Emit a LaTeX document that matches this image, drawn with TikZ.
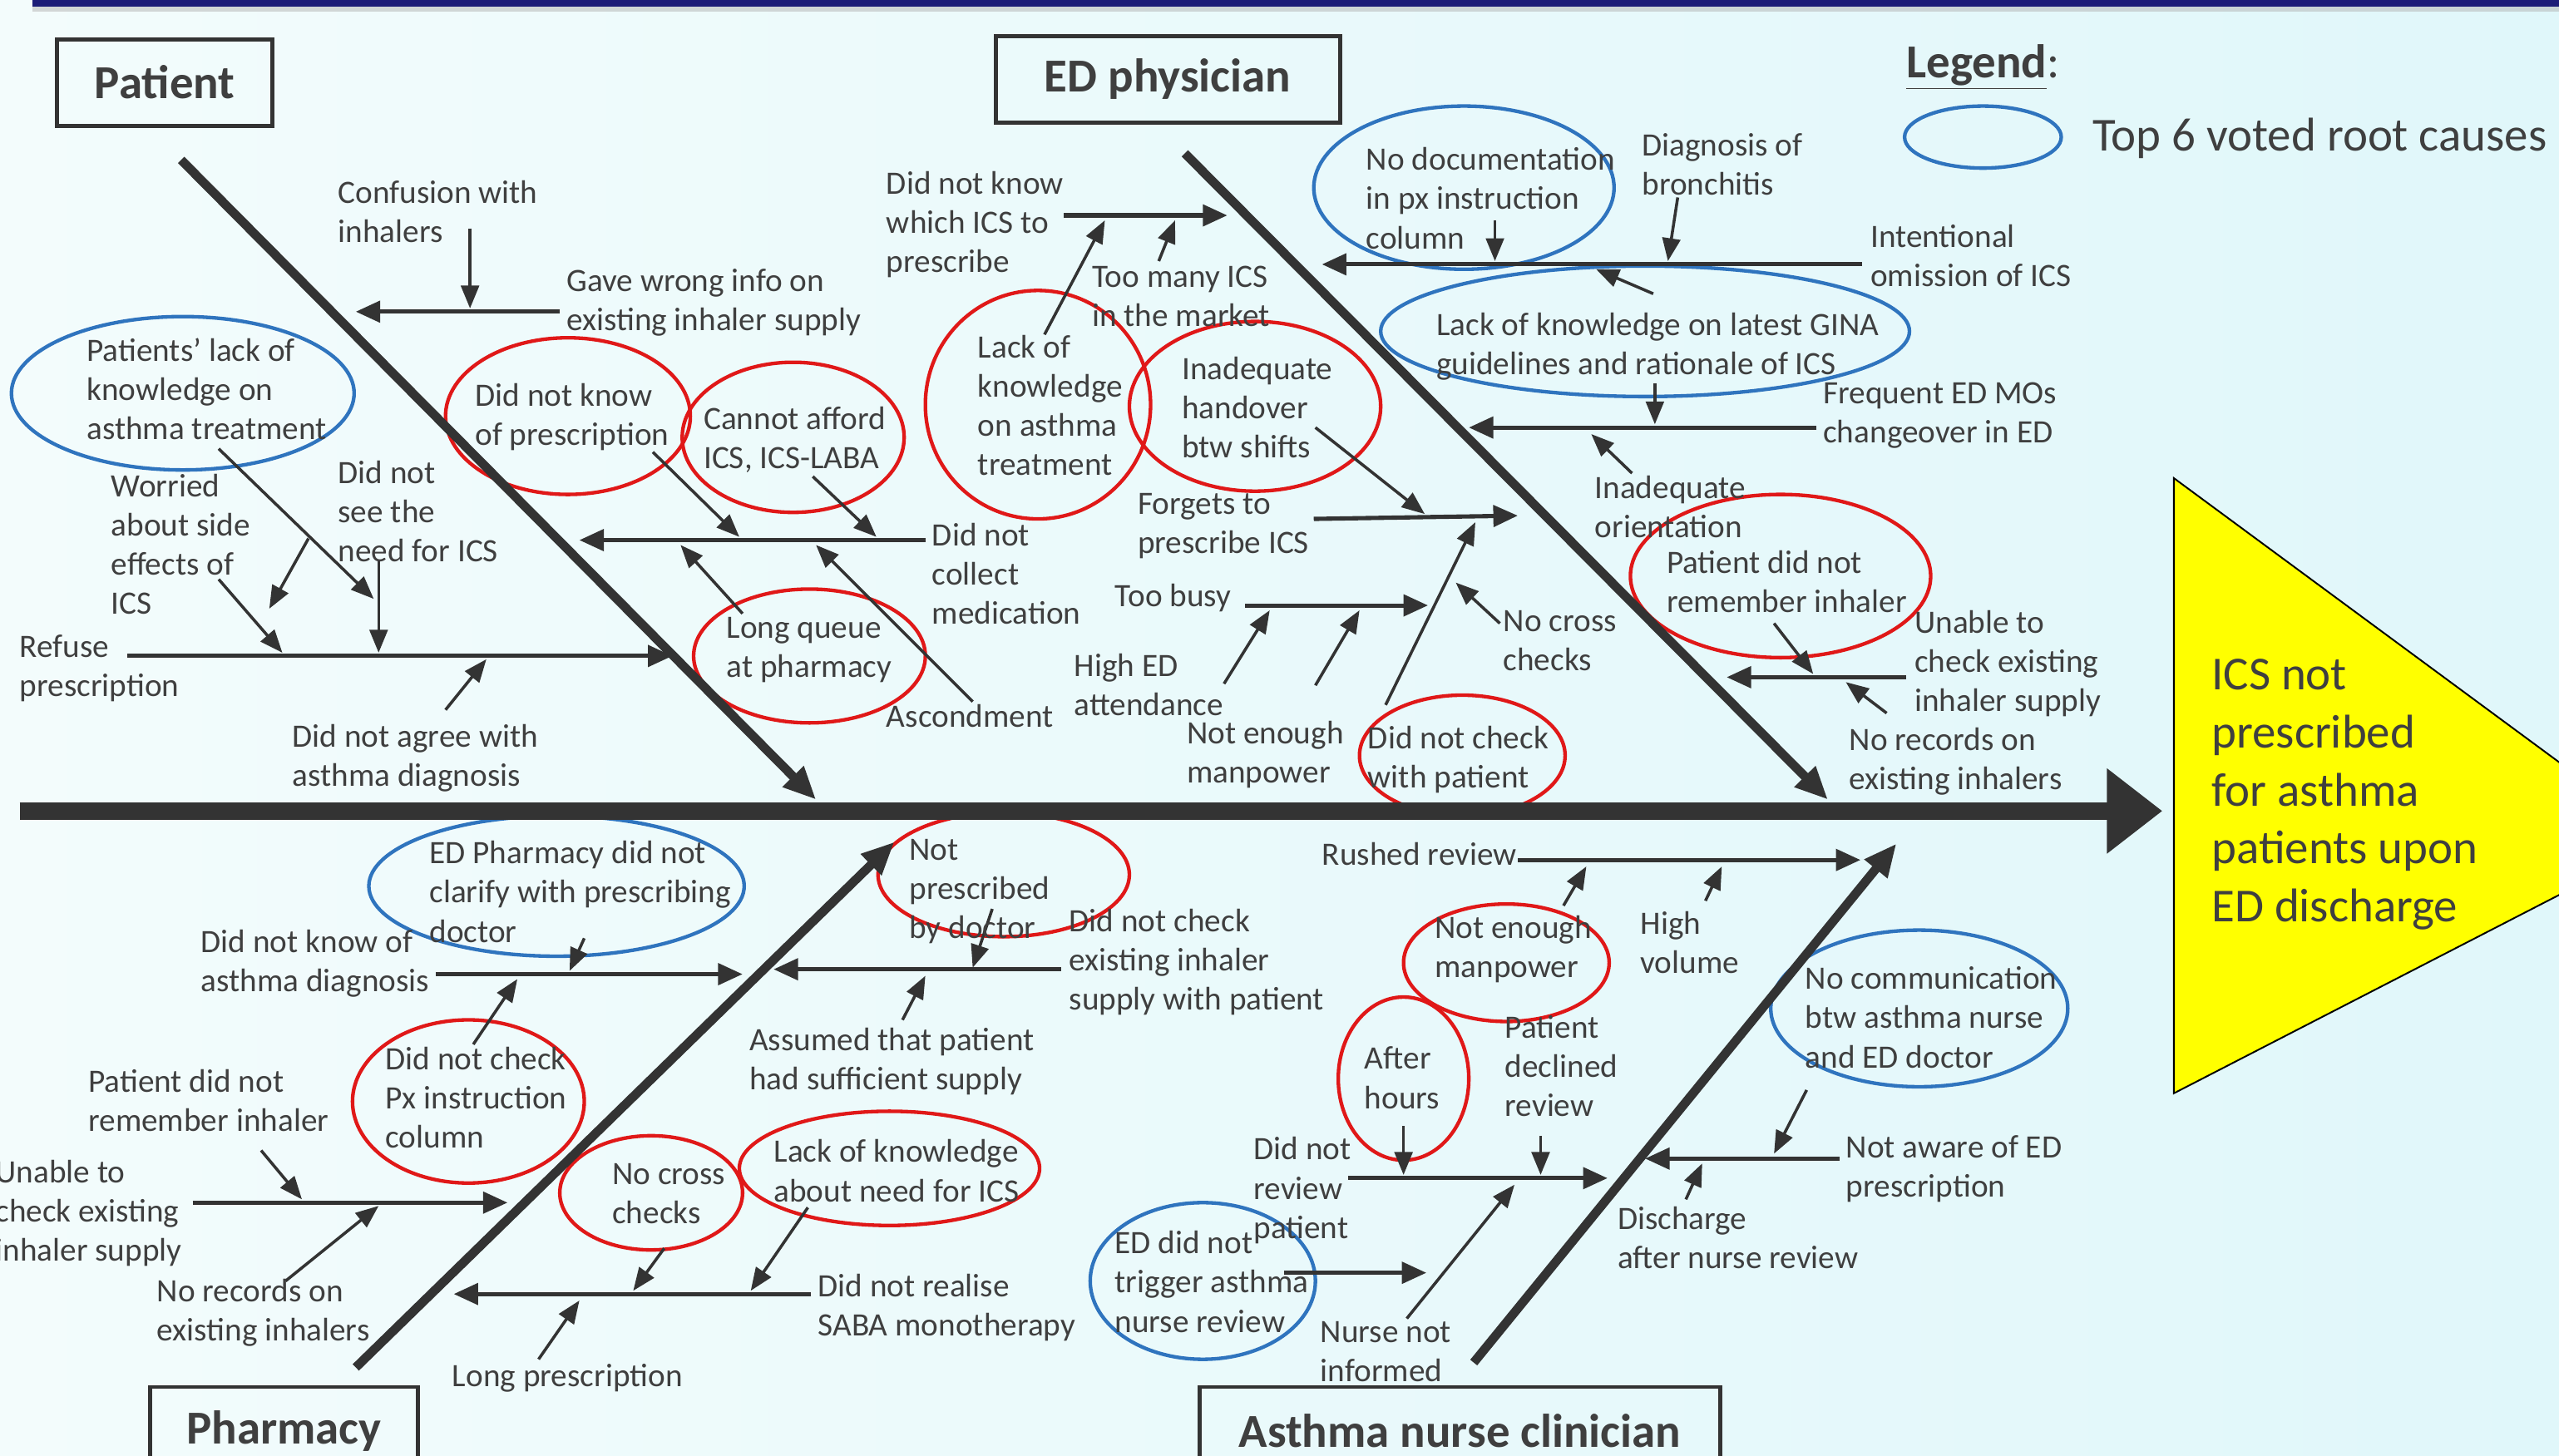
\documentclass[tikz,border=0pt]{standalone}
\usepackage{fontspec}
\setmainfont{Carlito}
\usetikzlibrary{arrows.meta,shapes.geometric}
\definecolor{ink}{HTML}{333333}
\definecolor{txt}{HTML}{3F3F3F}
\definecolor{rred}{HTML}{E01818}
\definecolor{bblue}{HTML}{2F74BE}
\definecolor{bgL}{HTML}{F3FCFC}
\definecolor{bgR}{HTML}{E0F7FA}
\definecolor{navy}{HTML}{1C1C78}
\definecolor{yel}{HTML}{FFFF00}
\begin{document}
\begin{tikzpicture}[x=1pt,y=-1pt,
  lbl/.style={font=\fontsize{20}{24}\selectfont, text=txt, align=left, anchor=west, inner sep=0pt, yshift=-1.5pt},
  tarr/.style={draw=ink, line width=1.8pt, -{Triangle[length=14pt,width=11pt]}},
  harr/.style={draw=ink, line width=2.6pt, -{Triangle[length=15pt,width=13pt]}},
  bone/.style={draw=ink, line width=5.5pt, -{Triangle[length=20pt,width=17pt]}},
  spine/.style={draw=ink, line width=11pt, -{Triangle[length=34pt,width=50pt]}},
  redov/.style={draw=rred, line width=2.2pt, ellipse, inner sep=0pt},
  blueov/.style={draw=bblue, line width=2.2pt, ellipse, inner sep=0pt},
  titlebox/.style={draw=ink, line width=2.5pt, font=\fontsize{29}{34}\selectfont\bfseries, text=txt, inner sep=0pt}
]
\useasboundingbox (0,0) rectangle (1568,892);
\clip (0,0) rectangle (1568,892);
\fill[left color=bgL, right color=bgR] (0,0) rectangle (1568,892);
\fill[black!30, opacity=0.5] (20,3) rectangle (1568,7);
\fill[navy] (20,0) rectangle (1568,4);

% ---------- goal triangle ----------
\draw[fill=yel, draw=black, line width=1pt] (1332,293) -- (1633,515) -- (1332,670) -- cycle;
\node[anchor=west, align=left, inner sep=0pt, text=txt, font=\fontsize{29}{35.5}\selectfont] (goal) at (1355,487)
  {ICS not\\prescribed\\for asthma\\patients upon\\ED discharge};

% ---------- legend ----------
\node[anchor=west, inner sep=0pt, text=txt, font=\fontsize{29}{34}\selectfont] (legend) at (1168,41) {\textbf{\underline{Legend}}:};
\node[blueov, minimum width=96pt, minimum height=38pt] (legov) at (1215,84) {};
\node[anchor=west, inner sep=0pt, text=txt, font=\fontsize{29}{34}\selectfont] (legtxt) at (1282,85) {Top 6 voted root causes};

% ---------- title boxes ----------
\node[titlebox, minimum width=132pt, minimum height=53pt] (tPatient) at (101,50.5) {Patient};
\node[titlebox, minimum width=211pt, minimum height=53pt] (tED) at (715.5,48.5) {ED physician};
\node[titlebox, minimum width=164pt, minimum height=54pt] (tPharm) at (174,877) {Pharmacy};
\node[titlebox, minimum width=319pt, minimum height=54pt] (tNurse) at (894.5,877) {Asthma nurse clinician};

% ---------- ovals ----------
\node[blueov, minimum width=210pt, minimum height=94pt] (B1) at (112,241) {};
\node[blueov, minimum width=184pt, minimum height=100pt] (B2) at (897,115) {};
\node[blueov, minimum width=324pt, minimum height=80pt] (B3) at (1008,203) {};
\node[blueov, minimum width=230pt, minimum height=86pt] (B4) at (341,543) {};
\node[blueov, minimum width=138pt, minimum height=96pt] (B5) at (737,785) {};
\node[blueov, minimum width=182pt, minimum height=96pt] (B6) at (1176,618) {};
\node[redov, minimum width=150pt, minimum height=96pt] (R1) at (348,255) {};
\node[redov, minimum width=136pt, minimum height=92pt] (R2) at (486,268) {};
\node[redov, minimum width=142pt, minimum height=82pt] (R3) at (496,402) {};
\node[redov, minimum width=138pt, minimum height=140pt] (R4) at (636,248) {};
\node[redov, minimum width=154pt, minimum height=104pt] (R5) at (769,249) {};
\node[redov, minimum width=126pt, minimum height=74pt] (R6) at (896,463) {};
\node[redov, minimum width=184pt, minimum height=100pt] (R7) at (1091,353) {};
\node[redov, minimum width=142pt, minimum height=100pt] (R8) at (287,675) {};
\node[redov, minimum width=112pt, minimum height=70pt] (R9) at (399,731) {};
\node[redov, minimum width=184pt, minimum height=70pt] (R10) at (545,716) {};
\node[redov, minimum width=154pt, minimum height=76pt] (R11) at (615,536) {};
\node[redov, minimum width=126pt, minimum height=72pt] (R12) at (923,590) {};
\node[redov, minimum width=80pt, minimum height=100pt] (R13) at (860,661) {};

% ---------- spine and bones ----------
\coordinate (sp0) at (12,497);   \coordinate (sp1) at (1325,497);
\draw[spine] (sp0) -- (sp1);
\coordinate (bP0) at (111,98);   \coordinate (bP1) at (500,490);
\coordinate (bE0) at (726,94);   \coordinate (bE1) at (1120,490);
\coordinate (bF0) at (218,838);  \coordinate (bF1) at (548,516);
\coordinate (bN0) at (903,835);  \coordinate (bN1) at (1162,517);
\draw[bone] (bP0) -- (bP1);
\draw[bone] (bE0) -- (bE1);
\draw[bone] (bF0) -- (bF1);
\draw[bone] (bN0) -- (bN1);

% ---------- Patient branch ----------
\coordinate (p1a) at (343,191); \coordinate (p1b) at (218,191); \draw[harr] (p1a) -- (p1b);
\coordinate (p2a) at (288,140); \coordinate (p2b) at (288,189); \draw[tarr] (p2a) -- (p2b);
\coordinate (p3a) at (567,331); \coordinate (p3b) at (355,331); \draw[harr] (p3a) -- (p3b);
\coordinate (p4a) at (400,277); \coordinate (p4b) at (453,329); \draw[tarr] (p4a) -- (p4b);
\coordinate (p5a) at (498,292); \coordinate (p5b) at (537,329); \draw[tarr] (p5a) -- (p5b);
\coordinate (p6a) at (455,376); \coordinate (p6b) at (417,334); \draw[tarr] (p6a) -- (p6b);
\coordinate (p7a) at (596,430); \coordinate (p7b) at (500,334); \draw[tarr] (p7a) -- (p7b);
\coordinate (p8a) at (78,402);  \coordinate (p8b) at (412,402); \draw[harr] (p8a) -- (p8b);
\coordinate (p9a) at (134,275); \coordinate (p9b) at (229,367); \draw[tarr] (p9a) -- (p9b);
\coordinate (p10a) at (189,330); \coordinate (p10b) at (165,373); \draw[tarr] (p10a) -- (p10b);
\coordinate (p11a) at (134,355); \coordinate (p11b) at (173,400); \draw[tarr] (p11a) -- (p11b);
\coordinate (p12a) at (232,343); \coordinate (p12b) at (232,400); \draw[tarr] (p12a) -- (p12b);
\coordinate (p13a) at (273,435); \coordinate (p13b) at (298,404); \draw[tarr] (p13a) -- (p13b);

\node[lbl] (L1) at (207,128) {Confusion with\\inhalers};
\node[lbl] (L2) at (347,184) {Gave wrong info on\\existing inhaler supply};
\node[lbl] (L3) at (53,237) {Patients’ lack of\\knowledge on\\asthma treatment};
\node[lbl] (L4) at (291,254) {Did not know\\of prescription};
\node[lbl] (L5) at (431,268) {Cannot afford\\ICS, ICS-LABA};
\node[lbl] (L6) at (571,350) {Did not\\collect\\medication};
\node[lbl] (L7) at (445,397) {Long queue\\at pharmacy};
\node[lbl] (L8) at (543,437) {Ascondment};
\node[lbl] (L9) at (12,408) {Refuse\\prescription};
\node[lbl] (L10) at (68,332) {Worried\\about side\\effects of\\ICS};
\node[lbl] (L11) at (207,312) {Did not\\see the\\need for ICS};
\node[lbl] (L12) at (179,463) {Did not agree with\\asthma diagnosis};

% ---------- ED physician branch ----------
\coordinate (e1a) at (652,132); \coordinate (e1b) at (752,132); \draw[harr] (e1a) -- (e1b);
\coordinate (e2a) at (640,205); \coordinate (e2b) at (677,135); \draw[tarr] (e2a) -- (e2b);
\coordinate (e3a) at (710,160); \coordinate (e3b) at (720,135); \draw[tarr] (e3a) -- (e3b);
\coordinate (e4a) at (805,318); \coordinate (e4b) at (930,316); \draw[harr] (e4a) -- (e4b);
\coordinate (e5a) at (806,262); \coordinate (e5b) at (873,315); \draw[tarr] (e5a) -- (e5b);
\coordinate (e6a) at (849,432); \coordinate (e6b) at (904,320); \draw[tarr] (e6a) -- (e6b);
\coordinate (e7a) at (763,371); \coordinate (e7b) at (875,371); \draw[harr] (e7a) -- (e7b);
\coordinate (e8a) at (750,419); \coordinate (e8b) at (778,374); \draw[tarr] (e8a) -- (e8b);
\coordinate (e9a) at (806,420); \coordinate (e9b) at (833,374); \draw[tarr] (e9a) -- (e9b);
\coordinate (e10a) at (919,382); \coordinate (e10b) at (892,357); \draw[tarr] (e10a) -- (e10b);
\coordinate (e11a) at (1141,162); \coordinate (e11b) at (810,162); \draw[harr] (e11a) -- (e11b);
\coordinate (e12a) at (916,135); \coordinate (e12b) at (916,160); \draw[tarr] (e12a) -- (e12b);
\coordinate (e13a) at (1028,121); \coordinate (e13b) at (1022,160); \draw[tarr] (e13a) -- (e13b);
\coordinate (e14a) at (1013,180); \coordinate (e14b) at (978,165); \draw[tarr] (e14a) -- (e14b);
\coordinate (e15a) at (1113,262); \coordinate (e15b) at (900,262); \draw[harr] (e15a) -- (e15b);
\coordinate (e16a) at (1014,235); \coordinate (e16b) at (1014,260); \draw[tarr] (e16a) -- (e16b);
\coordinate (e17a) at (1000,290); \coordinate (e17b) at (975,266); \draw[tarr] (e17a) -- (e17b);
\coordinate (e18a) at (1168,415); \coordinate (e18b) at (1058,415); \draw[harr] (e18a) -- (e18b);
\coordinate (e19a) at (1087,382); \coordinate (e19b) at (1111,413); \draw[tarr] (e19a) -- (e19b);
\coordinate (e20a) at (1156,437); \coordinate (e20b) at (1131,418); \draw[tarr] (e20a) -- (e20b);

\node[lbl] (E1) at (543,136) {Did not know\\which ICS to\\prescribe};
\node[lbl] (E2) at (669,180) {Too many ICS\\in the market};
\node[lbl] (E3) at (599,247) {Lack of\\knowledge\\on asthma\\treatment};
\node[lbl] (E4) at (724,248) {Inadequate\\handover\\btw shifts};
\node[lbl] (E5) at (697,321) {Forgets to\\prescribe ICS};
\node[lbl] (E6) at (683,365) {Too busy};
\node[lbl] (E7) at (658,418) {High ED\\attendance};
\node[lbl] (E8) at (727,461) {Not enough\\manpower};
\node[lbl] (E9) at (838,464) {Did not check\\with patient};
\node[lbl] (E10) at (921,391) {No cross\\checks};
\node[lbl] (E11) at (837,120) {No documentation\\in px instruction\\column};
\node[lbl] (E12) at (1006,99) {Diagnosis of\\bronchitis};
\node[lbl] (E13) at (1146,155) {Intentional\\omission of ICS};
\node[lbl] (E14) at (880,211) {Lack of knowledge on latest GINA\\guidelines and rationale of ICS};
\node[lbl] (E15) at (1117,253) {Frequent ED MOs\\changeover in ED};
\node[lbl] (E16) at (977,309) {Inadequate\\orientation};
\node[lbl] (E17) at (1021,355) {Patient did not\\remember inhaler};
\node[lbl] (E18) at (1173,405) {Unable to\\check existing\\inhaler supply};
\node[lbl] (E19) at (1133,465) {No records on\\existing inhalers};

% ---------- Pharmacy branch ----------
\coordinate (f1a) at (267,597); \coordinate (f1b) at (455,597); \draw[harr] (f1a) -- (f1b);
\coordinate (f2a) at (358,575); \coordinate (f2b) at (349,595); \draw[tarr] (f2a) -- (f2b);
\coordinate (f3a) at (290,640); \coordinate (f3b) at (317,600); \draw[tarr] (f3a) -- (f3b);
\coordinate (f4a) at (118,737); \coordinate (f4b) at (311,737); \draw[harr] (f4a) -- (f4b);
\coordinate (f5a) at (160,705); \coordinate (f5b) at (185,735); \draw[tarr] (f5a) -- (f5b);
\coordinate (f6a) at (175,785); \coordinate (f6b) at (232,739); \draw[tarr] (f6a) -- (f6b);
\coordinate (f7a) at (497,793); \coordinate (f7b) at (278,793); \draw[harr] (f7a) -- (f7b);
\coordinate (f8a) at (407,765); \coordinate (f8b) at (388,791); \draw[tarr] (f8a) -- (f8b);
\coordinate (f9a) at (495,740); \coordinate (f9b) at (460,791); \draw[tarr] (f9a) -- (f9b);
\coordinate (f10a) at (330,833); \coordinate (f10b) at (355,797); \draw[tarr] (f10a) -- (f10b);
\coordinate (f11a) at (650,594); \coordinate (f11b) at (474,594); \draw[harr] (f11a) -- (f11b);
\coordinate (f12a) at (608,557); \coordinate (f12b) at (596,593); \draw[tarr] (f12a) -- (f12b);
\coordinate (f13a) at (553,625); \coordinate (f13b) at (567,598); \draw[tarr] (f13a) -- (f13b);

\node[lbl] (F1) at (263,545) {ED Pharmacy did not\\clarify with prescribing\\doctor};
\node[lbl] (F2) at (123,589) {Did not know of\\asthma diagnosis};
\node[lbl] (F3) at (236,671) {Did not check\\Px instruction\\column};
\node[lbl] (F4) at (54,673) {Patient did not\\remember inhaler};
\node[lbl] (F5) at (-3,742) {Unable to\\check existing\\inhaler supply};
\node[lbl] (F6) at (96,803) {No records on\\existing inhalers};
\node[lbl] (F7) at (375,730) {No cross\\checks};
\node[lbl] (F8) at (474,716) {Lack of knowledge\\about need for ICS};
\node[lbl] (F9) at (501,800) {Did not realise\\SABA monotherapy};
\node[lbl] (F10) at (277,843) {Long prescription};
\node[lbl] (F11) at (557,545) {Not\\prescribed\\by doctor};
\node[lbl] (F12) at (655,588) {Did not check\\existing inhaler\\supply with patient};
\node[lbl] (F13) at (459,649) {Assumed that patient\\had sufficient supply};

% ---------- Asthma nurse branch ----------
\coordinate (n1a) at (930,527); \coordinate (n1b) at (1140,527); \draw[harr] (n1a) -- (n1b);
\coordinate (n2a) at (958,555); \coordinate (n2b) at (972,531); \draw[tarr] (n2a) -- (n2b);
\coordinate (n3a) at (1045,552); \coordinate (n3b) at (1055,531); \draw[tarr] (n3a) -- (n3b);
\coordinate (n4a) at (826,722); \coordinate (n4b) at (985,722); \draw[harr] (n4a) -- (n4b);
\coordinate (n5a) at (860,690); \coordinate (n5b) at (860,720); \draw[tarr] (n5a) -- (n5b);
\coordinate (n6a) at (944,696); \coordinate (n6b) at (944,720); \draw[tarr] (n6a) -- (n6b);
\coordinate (n7a) at (862,808); \coordinate (n7b) at (928,726); \draw[tarr] (n7a) -- (n7b);
\coordinate (n8a) at (787,780); \coordinate (n8b) at (874,780); \draw[harr] (n8a) -- (n8b);
\coordinate (n9a) at (1127,710); \coordinate (n9b) at (1008,710); \draw[harr] (n9a) -- (n9b);
\coordinate (n10a) at (1107,668); \coordinate (n10b) at (1087,707); \draw[tarr] (n10a) -- (n10b);
\coordinate (n11a) at (1033,735); \coordinate (n11b) at (1043,713); \draw[tarr] (n11a) -- (n11b);

\node[lbl] (N1) at (810,522) {Rushed review};
\node[lbl] (N2) at (1005,576) {High\\volume};
\node[lbl] (N3) at (879,580) {Not enough\\manpower};
\node[lbl] (N4) at (836,659) {After\\hours};
\node[lbl] (N5) at (922,652) {Patient\\declined\\review};
\node[lbl] (N6) at (768,728) {Did not\\review\\patient};
\node[lbl] (N7) at (683,784) {ED did not\\trigger asthma\\nurse review};
\node[lbl] (N8) at (809,827) {Nurse not\\informed};
\node[lbl] (N9) at (1106,622) {No communication\\btw asthma nurse\\and ED doctor};
\node[lbl] (N10) at (1131,715) {Not aware of ED\\prescription};
\node[lbl] (N11) at (991,757) {Discharge\\after nurse review};
\end{tikzpicture}
\end{document}
